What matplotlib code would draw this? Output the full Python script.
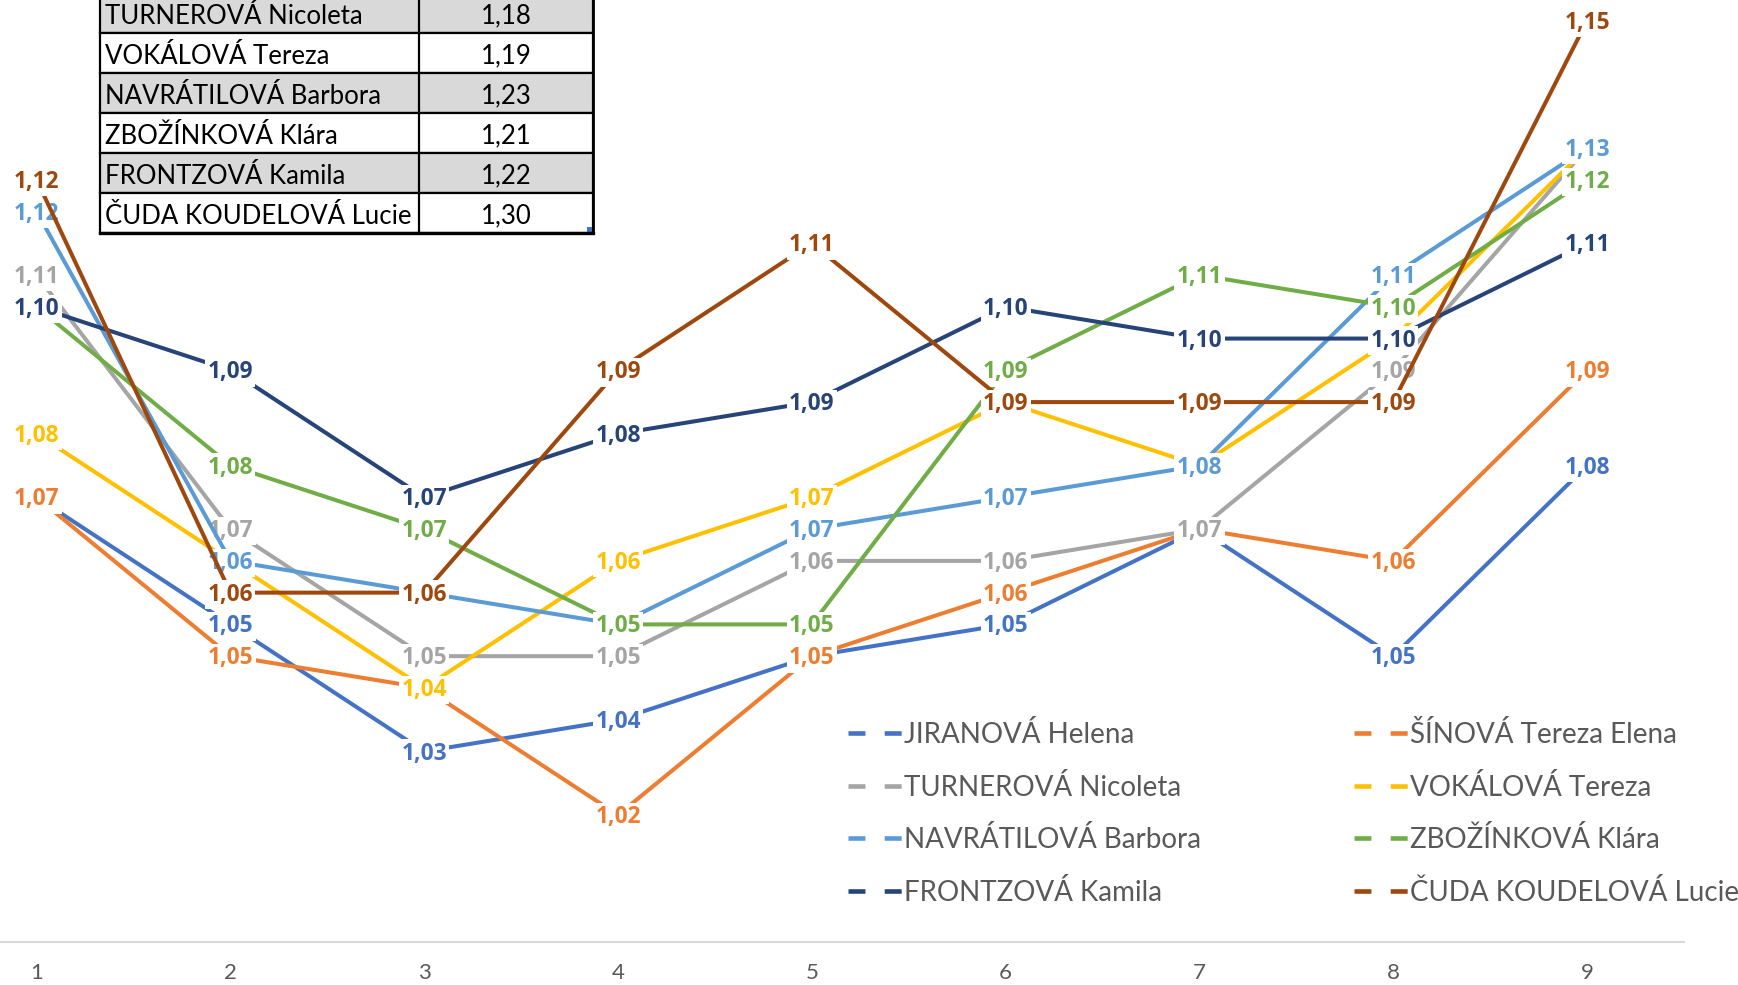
import math
import matplotlib
matplotlib.use("Agg")
import matplotlib.pyplot as plt
from matplotlib.lines import Line2D
from matplotlib.patches import Rectangle

plt.rcParams['font.family'] = ['Lato', 'DejaVu Sans']

# kola (x osa)
kola = [1, 2, 3, 4, 5, 6, 7, 8, 9]

jmena = ["JIRANOVÁ Helena", "ŠÍNOVÁ Tereza Elena", "TURNEROVÁ Nicoleta",
         "VOKÁLOVÁ Tereza", "NAVRÁTILOVÁ Barbora", "ZBOŽÍNKOVÁ Klára",
         "FRONTZOVÁ Kamila", "ČUDA KOUDELOVÁ Lucie"]
barvy = ["#4472C4", "#ED7D31", "#A5A5A5", "#FFC000",
         "#5B9BD5", "#70AD47", "#264478", "#9E480E"]

jiranova = [1.07, 1.05, 1.03, 1.035, 1.045, 1.05, 1.065, 1.045, 1.075]
sinova = [1.07, 1.045, 1.04, 1.02, 1.045, 1.055, 1.065, 1.06, 1.09]
turnerova = [1.105, 1.065, 1.045, 1.045, 1.06, 1.06, 1.065, 1.09, 1.125]
vokalova = [1.08, 1.06, 1.04, 1.06, 1.07, 1.085, 1.075, 1.095, 1.125]
navratilova = [1.115, 1.06, 1.055, 1.05, 1.065, 1.07, 1.075, 1.105, 1.125]
zbozinkova = [1.10, 1.075, 1.065, 1.05, 1.05, 1.09, 1.105, 1.10, 1.12]
frontzova = [1.10, 1.09, 1.07, 1.08, 1.085, 1.10, 1.095, 1.095, 1.11]
cuda = [1.12, 1.055, 1.055, 1.09, 1.11, 1.085, 1.085, 1.085, 1.145]
hodnoty = [jiranova, sinova, turnerova, vokalova,
           navratilova, zbozinkova, frontzova, cuda]

# tabulka vlevo nahore
tab_jmena = ["TURNEROVÁ Nicoleta", "VOKÁLOVÁ Tereza", "NAVRÁTILOVÁ Barbora",
             "ZBOŽÍNKOVÁ Klára", "FRONTZOVÁ Kamila", "ČUDA KOUDELOVÁ Lucie"]
tab_hodnoty = [1.18, 1.19, 1.23, 1.21, 1.22, 1.30]


def carka(v):
    # zaokrouhleni jako v Excelu + desetinna carka
    return ("%.2f" % (math.floor(v * 100 + 0.5 + 1e-9) / 100)).replace(".", ",")


W, H = 1738, 985
fig = plt.figure(figsize=(W / 100, H / 100), dpi=100)
ax = fig.add_axes([0, 43 / H, 1, 942 / H])

for i in range(len(jmena)):
    ax.plot(kola, hodnoty[i], color=barvy[i], lw=2.9, zorder=2 + 2 * i)
    for x, v in zip(kola, hodnoty[i]):
        ax.annotate(carka(v), (x, v), xytext=(0, -1.5), textcoords="offset points",
                    color=barvy[i], fontsize=16.3, fontweight="bold",
                    family=["Open Sans", "DejaVu Sans"],
                    ha="center", va="center", zorder=3 + 2 * i,
                    bbox=dict(boxstyle="square,pad=0.1", fc="white", ec="none"))

ax.set_xlim(0.811, 9.779)
ax.set_ylim(1.00, 1.1483)
ax.set_xticks(kola)
ax.set_yticks([])
ax.tick_params(axis="x", length=0, pad=15, labelsize=16, labelcolor="#595959")
for s in ["top", "left", "right"]:
    ax.spines[s].set_visible(False)
ax.spines["bottom"].set_color("#D9D9D9")
ax.spines["bottom"].set_linewidth(1.5)
ax.spines["bottom"].set_bounds(0.5, 9.5)
ax.patch.set_visible(False)

# legenda - dva sloupce
def handle(c):
    return Line2D([], [], color=c, lw=3.3, linestyle=(0, (3.7, 4.2)))

sloupce = [[0, 2, 4, 6], [1, 3, 5, 7]]
lev_x = [848, 1354]
legendy = []
for k, idx in enumerate(sloupce):
    leg = ax.legend([handle(barvy[j]) for j in idx], [jmena[j] for j in idx],
                    loc="upper left", bbox_to_anchor=(lev_x[k] / W, 1 - 721 / H),
                    bbox_transform=fig.transFigure, frameon=False, fontsize=20,
                    handlelength=1.95, handletextpad=0.05, borderpad=0,
                    borderaxespad=0, labelspacing=0.92, labelcolor="#595959")
    legendy.append(leg)
ax.add_artist(legendy[0])

# tabulka
tax = fig.add_axes([0, 0, 1, 1], zorder=10)
tax.set_xlim(0, W)
tax.set_ylim(H, 0)
tax.axis("off")
x0, x1, x2 = 100, 419, 593
vr = 40
for r, (jm, hv) in enumerate(zip(tab_jmena, tab_hodnoty)):
    top = -7 + vr * r
    fc = "#D9D9D9" if r % 2 == 0 else "white"
    tax.add_patch(Rectangle((x0, top), x2 - x0, vr, fc=fc, ec="black", lw=1.6))
    tax.plot([x1, x1], [top, top + vr], color="black", lw=1.6)
    tax.text(x0 + 5, top + vr / 2 + 3, jm, fontsize=18.5, ha="left", va="center",
             color="black")
    tax.text((x1 + x2) / 2, top + vr / 2 + 3, carka(hv),
             fontsize=18.5, ha="center", va="center", color="black")
spodek = -7 + vr * len(tab_jmena)
tax.plot([x0, x2], [spodek, spodek], color="black", lw=2.4)
tax.plot([x2, x2], [-7, spodek], color="black", lw=2.0)
tax.add_patch(Rectangle((x2 - 6, spodek - 6), 5, 5, fc="#4472C4", ec="none"))

fig.savefig("out.png", dpi=100)
